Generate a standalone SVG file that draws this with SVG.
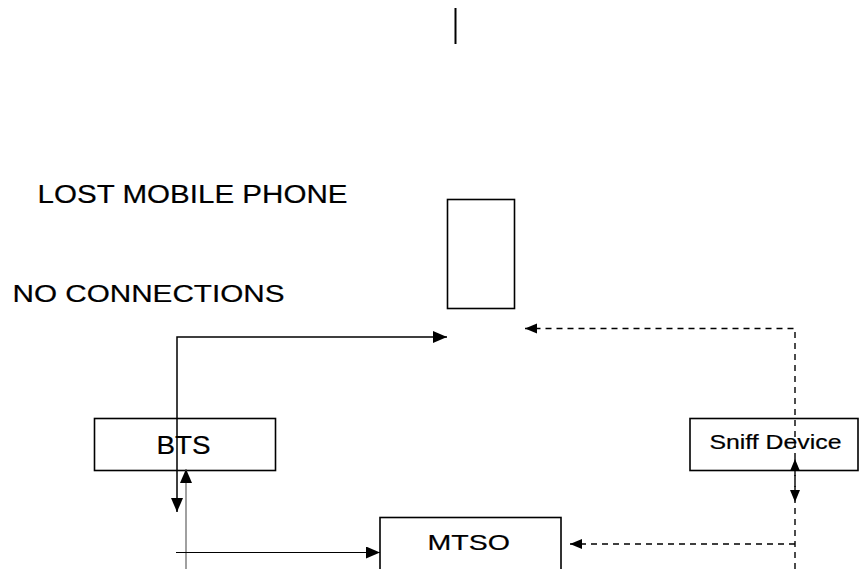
<svg xmlns="http://www.w3.org/2000/svg" width="859" height="569" viewBox="0 0 859 569">
<style>
.box{fill:#fff;stroke:#000;stroke-width:1.6}
.lbl{font-family:"Liberation Sans",Arial,sans-serif;fill:#000;stroke:#000;stroke-width:0.2}
.ln{fill:none;stroke:#000;stroke-width:1.5}
.dash{fill:none;stroke:#000;stroke-width:1.4;stroke-dasharray:6 5}
</style>
<defs>
<marker id="ah" markerUnits="userSpaceOnUse" markerWidth="16" markerHeight="14" refX="14" refY="6" orient="auto-start-reverse"><path d="M0,0 L14,6 L0,12 z" fill="#000"/></marker>
<marker id="ahs" markerUnits="userSpaceOnUse" markerWidth="14" markerHeight="12" refX="12" refY="5" orient="auto-start-reverse"><path d="M0,0 L12,5 L0,10 z" fill="#000"/></marker>
</defs>
<rect width="859" height="569" fill="#fff"/>
<line x1="455.5" y1="8" x2="455.5" y2="44" stroke="#000" stroke-width="2"/>
<text class="lbl" x="37.5" y="202.5" font-size="25.5" textLength="310" lengthAdjust="spacingAndGlyphs">LOST MOBILE PHONE</text>
<text class="lbl" x="12.5" y="301.5" font-size="24.5" textLength="272" lengthAdjust="spacingAndGlyphs">NO CONNECTIONS</text>
<g id="phone"><rect class="box" x="447.5" y="199.5" width="67" height="109"/></g>
<g id="bts"><rect class="box" x="94.5" y="418.5" width="181" height="52"/><text class="lbl" x="156.5" y="454" font-size="25" textLength="54" lengthAdjust="spacingAndGlyphs">BTS</text></g>
<g id="sniff"><rect class="box" x="690" y="418.5" width="168" height="52"/><text class="lbl" x="709.5" y="448.5" font-size="20" textLength="132" lengthAdjust="spacingAndGlyphs">Sniff Device</text></g>
<g id="mtso"><rect class="box" x="380" y="517.5" width="181" height="60"/><text class="lbl" x="427.5" y="549.5" font-size="22.5" textLength="82.5" lengthAdjust="spacingAndGlyphs">MTSO</text></g>
<g id="connectors">
<path class="ln" d="M177,512 V337 H447" marker-start="url(#ah)" marker-end="url(#ah)"/>
<line x1="186" y1="569" x2="186" y2="469" stroke="#808080" stroke-width="1.5" marker-end="url(#ah)"/>
<line x1="176" y1="552.5" x2="380" y2="552.5" stroke="#000" stroke-width="1" marker-end="url(#ah)"/>
<path class="dash" d="M795,569 V328.5 H525" marker-end="url(#ahs)"/>
<line class="dash" x1="795" y1="544" x2="570" y2="544" marker-end="url(#ahs)"/>
<line class="dash" x1="795" y1="459" x2="795" y2="502" marker-start="url(#ahs)" marker-end="url(#ahs)"/>
</g>
</svg>
